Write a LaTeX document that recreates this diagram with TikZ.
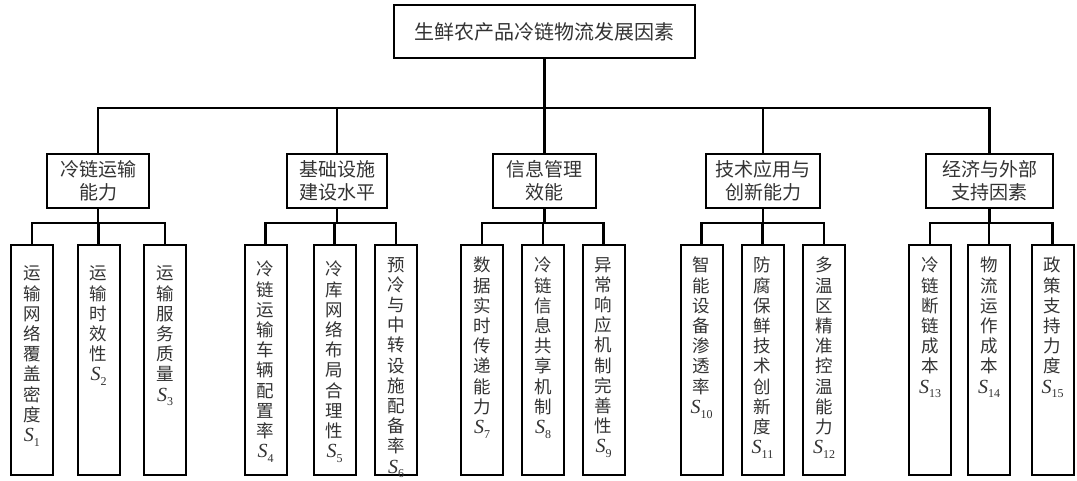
\documentclass[tikz,border=0pt]{standalone}
\usepackage{fontspec}
\setmainfont{Liberation Serif}
\newfontfamily\cjk{Noto Sans CJK SC}
\newcommand\Sidx[1]{{\rmfamily\itshape\fontsize{20}{20}\selectfont S}\raisebox{-0.5ex}{\rmfamily\fontsize{12}{12}\selectfont #1}}
\definecolor{txt}{HTML}{333333}
\begin{document}
\begin{tikzpicture}[x=1pt,y=-1pt,
  rootbox/.style={draw, line width=2pt, inner sep=0pt, minimum width=301pt, minimum height=53pt, font=\cjk\fontsize{20}{23}\selectfont, text=txt},
  catbox/.style={draw, line width=2pt, inner sep=0pt, minimum height=54pt, align=center, font=\cjk\fontsize{19}{23}\selectfont, text=txt},
  leafbox/.style={draw, line width=2pt, inner sep=0pt, minimum width=42pt, minimum height=230pt},
  leaftext/.style={anchor=north, inner sep=0pt, align=center, font=\cjk\fontsize{17.5}{20.2}\selectfont, text=txt},
  conn/.style={line width=2.8pt}]
\useasboundingbox (0,0) rectangle (1077,480);
\fill[white] (0,0) rectangle (1077,480);

% root
\node[rootbox] (root) at (544.5,31.5) {生鲜农产品冷链物流发展因素};

% categories
\node[catbox, minimum width=102pt] (c1) at (98,181) {冷链运输\\能力};
\node[catbox, minimum width=100pt] (c2) at (337,181) {基础设施\\建设水平};
\node[catbox, minimum width=103pt] (c3) at (544.5,181) {信息管理\\效能};
\node[catbox, minimum width=114pt] (c4) at (763,181) {技术应用与\\创新能力};
\node[catbox, minimum width=127pt] (c5) at (989.5,181) {经济与外部\\支持因素};

% leaves
\node[leafbox] (l1) at (32,360) {};
\node[leafbox] (l2) at (98.5,360) {};
\node[leafbox] (l3) at (165,360) {};
\node[leafbox] (l4) at (265.5,360) {};
\node[leafbox] (l5) at (334.5,360) {};
\node[leafbox] (l6) at (396,360) {};
\node[leafbox] (l7) at (482,360) {};
\node[leafbox] (l8) at (543,360) {};
\node[leafbox] (l9) at (603.5,360) {};
\node[leafbox] (l10) at (701.5,360) {};
\node[leafbox] (l11) at (762.5,360) {};
\node[leafbox] (l12) at (824,360) {};
\node[leafbox] (l13) at (930,360) {};
\node[leafbox] (l14) at (989,360) {};
\node[leafbox] (l15) at (1052.5,360) {};

\node[leaftext] (t1) at ([yshift=-22pt]l1.north) {运\\输\\网\\络\\覆\\盖\\密\\度\\\Sidx{1}};
\node[leaftext] (t2) at ([yshift=-22pt]l2.north) {运\\输\\时\\效\\性\\\Sidx{2}};
\node[leaftext] (t3) at ([yshift=-22pt]l3.north) {运\\输\\服\\务\\质\\量\\\Sidx{3}};
\node[leaftext] (t4) at ([yshift=-17pt]l4.north) {冷\\链\\运\\输\\车\\辆\\配\\置\\率\\\Sidx{4}};
\node[leaftext] (t5) at ([yshift=-17pt]l5.north) {冷\\库\\网\\络\\布\\局\\合\\理\\性\\\Sidx{5}};
\node[leaftext] (t6) at ([yshift=-13pt]l6.north) {预\\冷\\与\\中\\转\\设\\施\\配\\备\\率\\\Sidx{6}};
\node[leaftext] (t7) at ([yshift=-13pt]l7.north) {数\\据\\实\\时\\传\\递\\能\\力\\\Sidx{7}};
\node[leaftext] (t8) at ([yshift=-13pt]l8.north) {冷\\链\\信\\息\\共\\享\\机\\制\\\Sidx{8}};
\node[leaftext] (t9) at ([yshift=-13pt]l9.north) {异\\常\\响\\应\\机\\制\\完\\善\\性\\\Sidx{9}};
\node[leaftext] (t10) at ([yshift=-13pt]l10.north) {智\\能\\设\\备\\渗\\透\\率\\\Sidx{10}};
\node[leaftext] (t11) at ([yshift=-13pt]l11.north) {防\\腐\\保\\鲜\\技\\术\\创\\新\\度\\\Sidx{11}};
\node[leaftext] (t12) at ([yshift=-13pt]l12.north) {多\\温\\区\\精\\准\\控\\温\\能\\力\\\Sidx{12}};
\node[leaftext] (t13) at ([yshift=-13pt]l13.north) {冷\\链\\断\\链\\成\\本\\\Sidx{13}};
\node[leaftext] (t14) at ([yshift=-13pt]l14.north) {物\\流\\运\\作\\成\\本\\\Sidx{14}};
\node[leaftext] (t15) at ([yshift=-13pt]l15.north) {政\\策\\支\\持\\力\\度\\\Sidx{15}};

% connectors root -> categories
\coordinate (bar) at (root.south |- 0,108);
\draw[conn] (root.south) -- (bar);
\foreach \c in {c1,c2,c3,c4,c5} \draw[conn] (bar) -| (\c.north);

% connectors categories -> leaves
\foreach \c/\a/\b/\d in {c1/l1/l2/l3, c2/l4/l5/l6, c3/l7/l8/l9, c4/l10/l11/l12, c5/l13/l14/l15} {
  \coordinate (j\c) at (\c.south |- 0,223);
  \draw[conn] (\c.south) -- (j\c);
  \draw[conn] (j\c) -| (\a.north);
  \draw[conn] (j\c) -| (\b.north);
  \draw[conn] (j\c) -| (\d.north);
}
\end{tikzpicture}
\end{document}
